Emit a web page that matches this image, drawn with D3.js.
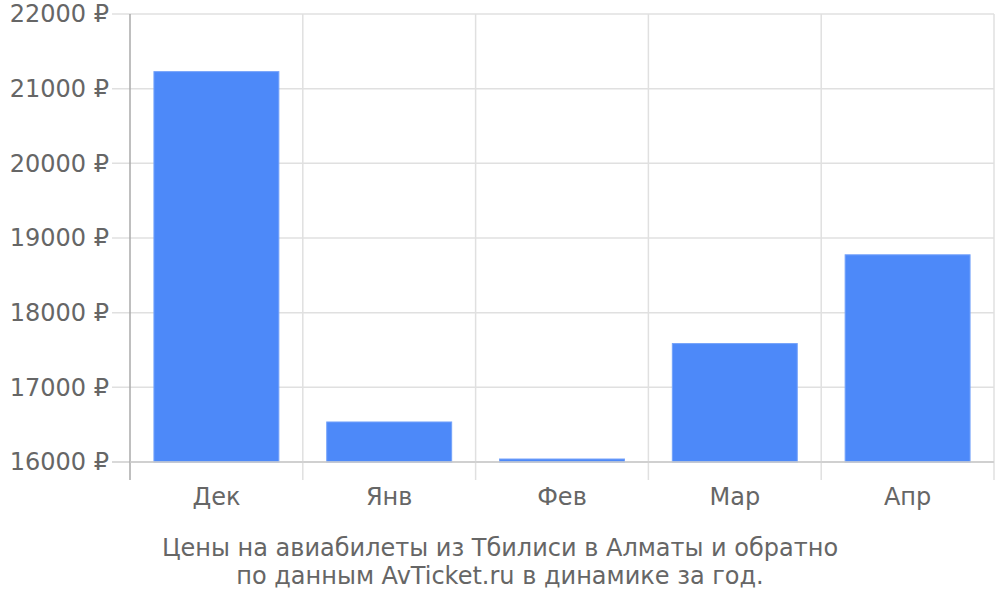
<!DOCTYPE html>
<html><head><meta charset="utf-8">
<script src="https://cdn.jsdelivr.net/npm/d3@7"></script>
<style>body{margin:0;background:#fff}svg{display:block}text{font-family:"DejaVu Sans",sans-serif;fill:#666}</style>
</head><body><svg width="1000" height="600"></svg>
<script>
const categories = ["Дек","Янв","Фев","Мар","Апр"];
const values = [21228, 16536, 16040, 17586, 18775];
const yTicks = [16000,17000,18000,19000,20000,21000,22000];
const titleLines = ["Цены на авиабилеты из Тбилиси в Алматы и обратно","по данным AvTicket.ru в динамике за год."];

const svg = d3.select("svg");
const L=130, R=994, T=14, B=462;
const x = d3.scaleBand().domain(categories).range([L,R]).paddingInner(0.277).paddingOuter(0.1385);
const xg = d3.scaleBand().domain(categories).range([L,R]).padding(0);
const y = d3.scaleLinear().domain([16000,22000]).range([B,T]);

svg.append("g").selectAll("line").data(yTicks).join("line")
  .attr("x1",112).attr("x2",R).attr("y1",d=>y(d)).attr("y2",d=>y(d))
  .attr("stroke",d=>d===16000?"#ccc":"#e0e0e0").attr("stroke-width",1.5);
const vx = categories.map(c=>xg(c)).slice(1).concat([R]);
svg.append("g").selectAll("line").data(vx).join("line")
  .attr("x1",d=>d).attr("x2",d=>d).attr("y1",T).attr("y2",480)
  .attr("stroke","#e0e0e0").attr("stroke-width",1.5);
svg.append("line").attr("x1",L).attr("x2",L).attr("y1",T).attr("y2",480).attr("stroke","#aaa").attr("stroke-width",1.5);

svg.append("g").selectAll("rect").data(values).join("rect")
  .attr("x",(d,i)=>x(categories[i])).attr("width",x.bandwidth())
  .attr("y",d=>y(d)).attr("height",d=>B-y(d))
  .attr("fill","#4d89f9").attr("stroke","#74a2fa").attr("stroke-width",1);
svg.append("line").attr("x1",L).attr("x2",R).attr("y1",B).attr("y2",B).attr("stroke","#ccc").attr("stroke-width",1.5);

svg.append("g").selectAll("text").data(yTicks).join("text")
  .attr("x",109).attr("y",d=>y(d)).attr("dy","0.35em").attr("text-anchor","end")
  .attr("font-size",24).text(d=>d+" ₽");
svg.append("g").selectAll("text").data(categories).join("text")
  .attr("x",d=>x(d)+x.bandwidth()/2).attr("y",505).attr("text-anchor","middle")
  .attr("font-size",24).text(d=>d);
svg.append("g").selectAll("text").data(titleLines).join("text")
  .attr("x",500).attr("y",(d,i)=>556+i*28).attr("text-anchor","middle")
  .attr("font-size",24).text(d=>d);
</script></body></html>
